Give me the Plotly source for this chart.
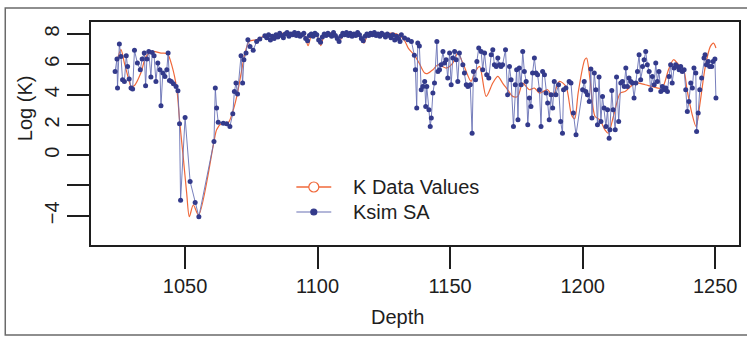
import plotly.graph_objects as go

# ---- Ksim SA (simulated, blue dots) ----
depth_sim = [
    1023.6, 1024.3, 1024.5, 1025.2, 1025.8, 1026.4, 1027.1, 1027.8, 1028.3, 1028.9,
    1029.6, 1030.2, 1030.9, 1032.0, 1033.1, 1033.8, 1034.6, 1035.1, 1035.6, 1036.3,
    1037.1, 1037.6, 1038.3, 1039.0, 1039.7, 1040.5, 1040.9, 1041.6, 1042.4, 1043.1,
    1043.6, 1044.1, 1044.8, 1045.6, 1046.6, 1047.3, 1047.9, 1048.3, 1050.0, 1051.9,
    1053.8, 1055.2, 1060.9, 1061.4, 1061.9, 1062.5, 1064.4, 1065.7, 1066.9, 1068.0,
    1068.6, 1069.2, 1069.8, 1071.1, 1071.7, 1072.2, 1073.0, 1073.7, 1074.5, 1075.7,
    1077.0, 1078.2, 1080.1,
    1080.8, 1081.5, 1082.2, 1082.9, 1083.6, 1084.3, 1085.0, 1085.7, 1086.4, 1087.1,
    1087.8, 1088.5, 1089.2, 1089.9, 1090.6, 1091.3, 1092.0, 1092.7, 1093.4, 1094.1,
    1094.8, 1095.5, 1096.2, 1096.9, 1097.6, 1098.3, 1099.0, 1099.7, 1100.4, 1101.1,
    1101.8, 1102.5, 1103.2, 1103.9, 1104.6, 1105.3, 1106.0, 1106.7, 1107.4, 1108.1,
    1108.8, 1109.5, 1110.2, 1110.9, 1111.6, 1112.3, 1113.0, 1113.7, 1114.4, 1115.1,
    1115.8, 1116.5, 1117.2, 1117.9, 1118.6, 1119.3, 1120.0, 1120.7, 1121.4, 1122.1,
    1122.8, 1123.5, 1124.2, 1124.9, 1125.6, 1126.3, 1127.0, 1127.7, 1128.4, 1129.1,
    1129.8, 1130.5, 1131.1, 1131.6, 1132.8, 1134.1, 1135.4,
    1136.5, 1136.9, 1137.4, 1137.8, 1138.4, 1139.1, 1139.7, 1140.4, 1140.8, 1141.2,
    1142.0, 1142.5, 1142.9, 1143.5, 1144.1, 1145.0, 1145.4, 1146.0, 1146.6, 1147.3,
    1147.9, 1148.5, 1149.1, 1149.8, 1150.4, 1151.0, 1151.7, 1152.3, 1152.9, 1153.5,
    1154.8, 1155.4, 1156.1, 1156.7, 1157.6, 1158.3, 1158.8, 1159.6, 1160.1, 1160.8,
    1161.7, 1162.3, 1163.0, 1163.8, 1164.6, 1165.5, 1166.1, 1166.7, 1167.4, 1168.0,
    1168.6, 1169.2, 1169.8, 1170.9, 1171.7, 1172.4, 1173.0, 1173.9, 1174.6, 1175.1,
    1175.6, 1176.1, 1176.8, 1177.4, 1178.0, 1178.7, 1179.3, 1179.9, 1180.5, 1181.1,
    1181.8, 1182.4, 1183.0, 1183.7, 1184.3, 1184.9, 1185.6, 1186.2, 1186.8, 1187.4,
    1188.1, 1188.7, 1189.3, 1189.9, 1190.9, 1191.7, 1192.4, 1192.8, 1193.7, 1194.9,
    1195.6, 1196.5, 1197.5, 1200.0, 1200.6, 1201.2, 1201.8, 1202.5, 1203.1, 1203.5,
    1204.4, 1205.0, 1205.6, 1206.2, 1206.9, 1207.5, 1208.1, 1208.8, 1209.4, 1210.0,
    1210.3, 1211.0, 1211.5, 1212.3, 1212.8, 1213.6, 1214.4, 1215.0, 1215.7, 1216.3,
    1216.9, 1217.5, 1218.2, 1218.8, 1219.4, 1220.1, 1220.7, 1221.3, 1221.9, 1222.6,
    1223.2, 1223.8, 1224.4, 1225.1, 1225.7, 1226.3, 1227.0, 1227.6, 1228.2, 1228.8,
    1229.5, 1230.1, 1230.7, 1231.4, 1232.0, 1232.6, 1233.2, 1233.8, 1234.5, 1235.1,
    1235.7, 1236.4, 1237.0, 1237.6, 1238.3, 1238.9, 1239.5, 1240.1, 1240.8, 1241.4,
    1242.0, 1242.7, 1243.0, 1243.6, 1244.2, 1244.9, 1245.8, 1246.2, 1246.7, 1247.4,
    1247.9, 1248.7, 1249.2, 1249.9, 1250.3,
]
logk_sim = [
    5.53, 6.35, 4.43, 7.34, 6.52, 4.98, 4.87, 6.57, 5.86, 5.02,
    4.43, 4.36, 6.92, 6.08, 5.64, 6.35, 6.74, 4.58, 6.35, 6.85,
    5.16, 6.78, 6.57, 4.87, 6.08, 5.64, 3.26, 5.42, 5.20, 5.64,
    6.74, 4.93, 4.87, 4.71, 4.54, 4.25, 2.07, -2.97, 2.49, -1.74,
    -3.13, -4.06, 0.90, 4.43, 3.11, 2.18, 2.11, 2.07, 1.89, 2.73,
    4.20, 4.76, 4.03, 6.57, 4.76, 6.30, 6.74, 7.62, 7.18, 6.92,
    7.51, 7.67, 7.89,
    7.75, 7.95, 7.60, 7.85, 7.70, 7.95, 7.80, 8.05, 7.90, 7.75,
    8.00, 8.10, 7.85, 8.00, 7.95, 8.10, 7.90, 8.05, 7.85, 7.95,
    8.05, 7.70, 7.55, 7.90, 8.00, 7.85, 8.05, 7.95, 7.60, 7.45,
    7.80, 8.00, 7.90, 8.05, 7.95, 7.85, 8.10, 7.90, 7.70, 7.50,
    7.85, 8.05, 7.95, 8.10, 7.90, 8.05, 7.85, 8.00, 7.90, 8.10,
    7.95, 7.70, 7.55, 7.85, 8.00, 7.90, 8.05, 7.95, 8.10, 7.90,
    8.00, 7.85, 8.05, 7.95, 7.80, 8.00, 7.90, 7.75, 7.95, 7.60,
    7.85, 7.70, 7.50, 7.95, 7.73, 7.62, 7.51,
    6.60, 5.64, 3.11, 7.40, 7.20, 4.32, 4.54, 4.87, 3.21, 4.54,
    3.00, 1.89, 2.45, 4.10, 4.76, 7.51, 5.53, 5.64, 5.97, 6.85,
    6.08, 6.30, 5.09, 6.74, 4.65, 6.41, 6.85, 6.30, 4.87, 6.74,
    5.97, 5.42, 4.65, 4.54, 4.65, 1.45, 5.53, 4.98, 6.19, 7.07,
    6.85, 5.64, 6.74, 5.31, 5.09, 6.63, 6.96, 5.97, 5.86, 6.41,
    5.97, 5.86, 5.97, 6.96, 3.99, 5.86, 4.98, 1.89, 4.65, 5.64,
    2.33, 5.75, 4.65, 6.85, 5.53, 4.87, 2.00, 3.77, 3.21, 5.42,
    6.41, 5.42, 5.31, 4.32, 1.89, 5.53, 5.31, 4.10, 3.44, 2.33,
    3.99, 3.11, 4.87, 3.99, 4.65, 2.22, 1.45, 4.32, 4.43, 4.87,
    4.76, 2.78, 1.34, 4.32, 4.87, 4.20, 3.99, 3.54, 5.69, 2.45,
    5.42, 4.32, 2.00, 5.16, 2.22, 3.88, 3.11, 1.89, 3.00, 1.12,
    1.67, 4.27, 3.00, 1.67, 5.16, 2.22, 4.76, 4.87, 4.54, 5.75,
    4.54, 5.09, 4.87, 4.76, 3.77, 4.76, 5.53, 6.63, 4.98, 5.86,
    6.30, 6.85, 5.97, 5.53, 4.32, 5.20, 4.65, 6.08, 4.87, 5.53,
    4.20, 4.54, 4.32, 4.43, 4.20, 5.20, 5.97, 4.76, 5.75, 5.97,
    5.86, 5.64, 5.86, 5.53, 5.64, 4.32, 2.88, 3.54, 4.76, 4.43,
    5.75, 5.42, 1.56, 2.78, 4.32, 5.09, 6.41, 6.63, 5.97, 6.19,
    5.86, 5.86, 6.19, 6.35, 3.77,
]

# ---- K Data Values (orange smooth line) ----
depth_data = [
    1024.3, 1025.8, 1027.1, 1028.9, 1029.6, 1030.9, 1033.3, 1035.3, 1037.7, 1040.9,
    1043.3, 1045.1, 1046.9, 1047.9, 1049.4, 1050.6, 1051.6, 1053.1, 1055.1, 1060.9,
    1061.9, 1063.8, 1066.3, 1068.2, 1069.5, 1071.4, 1072.6, 1074.2, 1077.0, 1079.0,
    1081.0, 1083.0, 1085.0, 1088.0, 1091.0, 1093.0, 1095.0, 1096.4, 1097.8, 1099.5,
    1101.2, 1102.6, 1105.0, 1107.0, 1108.4, 1110.0, 1113.0, 1116.0, 1117.5, 1119.0,
    1122.0, 1125.0, 1128.0, 1131.0, 1133.0, 1134.2, 1136.5, 1138.3, 1140.4, 1141.6,
    1143.5, 1145.4, 1148.5, 1151.0, 1152.9, 1154.8, 1157.9, 1159.2, 1161.1, 1163.6,
    1166.1, 1168.0, 1169.8, 1171.7, 1173.6, 1175.5, 1177.4, 1179.9, 1181.8, 1183.7,
    1186.8, 1188.7, 1191.2, 1193.7, 1195.8, 1197.0, 1198.3, 1200.8, 1201.5, 1202.8,
    1204.7, 1206.5, 1208.4, 1209.7, 1211.6, 1214.2, 1216.0, 1219.8, 1223.6, 1226.1,
    1229.9, 1232.4, 1234.3, 1236.2, 1238.1, 1239.4, 1241.2, 1242.8, 1244.3, 1246.3,
    1248.2, 1249.4, 1250.3,
]
logk_data = [
    6.20, 6.96, 6.08, 4.90, 4.54, 4.60, 5.42, 6.52, 6.85, 6.74,
    6.70, 5.86, 4.32, 2.33, -0.31, -2.51, -4.06, -3.29, -3.95, 0.90,
    1.67, 2.11, 2.15, 3.00, 3.88, 5.64, 6.74, 7.51, 7.62, 7.80,
    7.95, 7.85, 8.00, 8.05, 8.00, 8.05, 7.90, 7.23, 7.95, 8.00,
    7.23, 7.95, 8.05, 7.95, 7.58, 7.95, 8.05, 7.90, 7.40, 7.95,
    8.05, 8.00, 8.05, 7.90, 7.50, 7.07, 6.60, 6.08, 5.42, 5.40,
    5.64, 5.97, 5.75, 6.08, 6.74, 6.08, 4.87, 5.42, 5.86, 3.88,
    4.76, 5.20, 4.76, 4.32, 3.88, 3.88, 4.76, 4.32, 4.43, 4.10,
    4.32, 3.88, 4.87, 4.54, 2.66, 2.40, 4.10, 6.30, 6.41, 4.98,
    2.55, 2.33, 1.67, 1.45, 2.55, 4.10, 4.20, 4.76, 4.65, 4.54,
    4.43, 5.64, 6.30, 5.97, 5.64, 4.32, 2.78, 1.89, 3.44, 5.86,
    7.18, 7.40, 7.07,
]

x_ticks = [1050, 1100, 1150, 1200, 1250]
y_ticks = [-4, -2, 0, 2, 4, 6, 8]
y_ticktext = ["\u22124", "", "0", "2", "4", "6", "8"]
legend_labels = ["K Data Values", "Ksim SA"]

ORANGE = "#f0683a"
BLUE_LINE = "#6870b4"
BLUE_DOT = "#333a8b"
INK = "#1e1e1e"
FONT = "Liberation Sans, Arial, sans-serif"

L, R, T, B = 91, 6, 22, 94
W, H = 747, 339
pw = W - L - R
ph = H - T - B


def px_x(px):
    return (px - L) / pw


def px_y(py):
    return (H - B - py) / ph


fig = go.Figure()
fig.add_trace(go.Scatter(
    x=depth_data, y=logk_data, mode="lines", name=legend_labels[0],
    line=dict(color=ORANGE, width=1.2, shape="spline", smoothing=0.8),
    showlegend=False, hoverinfo="skip"))
fig.add_trace(go.Scatter(
    x=depth_sim, y=logk_sim, mode="lines+markers", name=legend_labels[1],
    line=dict(color=BLUE_LINE, width=0.9), marker=dict(color=BLUE_DOT, size=5),
    showlegend=False))

# ---- hand-drawn legend (R style) ----
leg_rows = [187, 212]
leg_x0, leg_x1, leg_mid, leg_text = 297, 332, 314.5, 352
shapes = []
annotations = []
styles = [
    dict(line=ORANGE, fill="rgba(0,0,0,0)", edge=ORANGE, r=5, lw=1.2),
    dict(line=BLUE_LINE, fill=BLUE_DOT, edge=BLUE_DOT, r=3, lw=0.9),
]
for row_y, label, st in zip(leg_rows, legend_labels, styles):
    shapes.append(dict(type="line", xref="paper", yref="paper",
                       x0=px_x(leg_x0), x1=px_x(leg_x1), y0=px_y(row_y), y1=px_y(row_y),
                       line=dict(color=st["line"], width=st["lw"] + 0.3)))
    shapes.append(dict(type="circle", xref="paper", yref="paper",
                       xsizemode="pixel", ysizemode="pixel",
                       xanchor=px_x(leg_mid), yanchor=px_y(row_y),
                       x0=-st["r"], x1=st["r"], y0=-st["r"], y1=st["r"],
                       fillcolor="white" if st["fill"] == "rgba(0,0,0,0)" else st["fill"],
                       line=dict(color=st["edge"], width=1.2)))
    annotations.append(dict(text=label, x=px_x(leg_text), y=px_y(row_y), xref="paper",
                            yref="paper", showarrow=False, xanchor="left", yanchor="middle",
                            font=dict(size=20, color=INK)))

annotations += [
    dict(text="Depth", x=px_x(398), y=px_y(317), xref="paper", yref="paper",
         showarrow=False, font=dict(size=20, color=INK), xanchor="center", yanchor="middle"),
    dict(text="Log (K)", x=px_x(25), y=px_y(108), xref="paper", yref="paper",
         showarrow=False, textangle=-90, font=dict(size=20, color=INK),
         xanchor="center", yanchor="middle"),
]

# outer figure frame (open on the right, as in the scan)
shapes.append(dict(type="rect", xref="paper", yref="paper",
                   x0=px_x(5), x1=px_x(760), y0=px_y(335), y1=px_y(8),
                   line=dict(color="#6a6a6a", width=1.5), fillcolor="rgba(0,0,0,0)",
                   layer="below"))

fig.update_layout(
    width=W, height=H, autosize=False,
    margin=dict(l=L, r=R, t=T, b=B),
    paper_bgcolor="white", plot_bgcolor="white",
    font=dict(family=FONT, size=20, color=INK),
    showlegend=False,
    xaxis=dict(range=[1014.5, 1259.0], tickvals=x_ticks, ticks="outside", ticklen=22,
               tickwidth=2, tickcolor=INK, showline=True, linewidth=2, linecolor=INK,
               mirror=True, showgrid=False, zeroline=False,
               tickfont=dict(size=20, color=INK)),
    yaxis=dict(range=[-5.93, 8.79], tickvals=y_ticks, ticktext=y_ticktext,
               ticks="outside", ticklen=22, tickwidth=2, tickcolor=INK,
               showline=True, linewidth=2, linecolor=INK, mirror=True,
               showgrid=False, zeroline=False, tickangle=-90,
               tickfont=dict(size=20, color=INK)),
    annotations=annotations,
    shapes=shapes,
)

fig.write_html("out.html")
